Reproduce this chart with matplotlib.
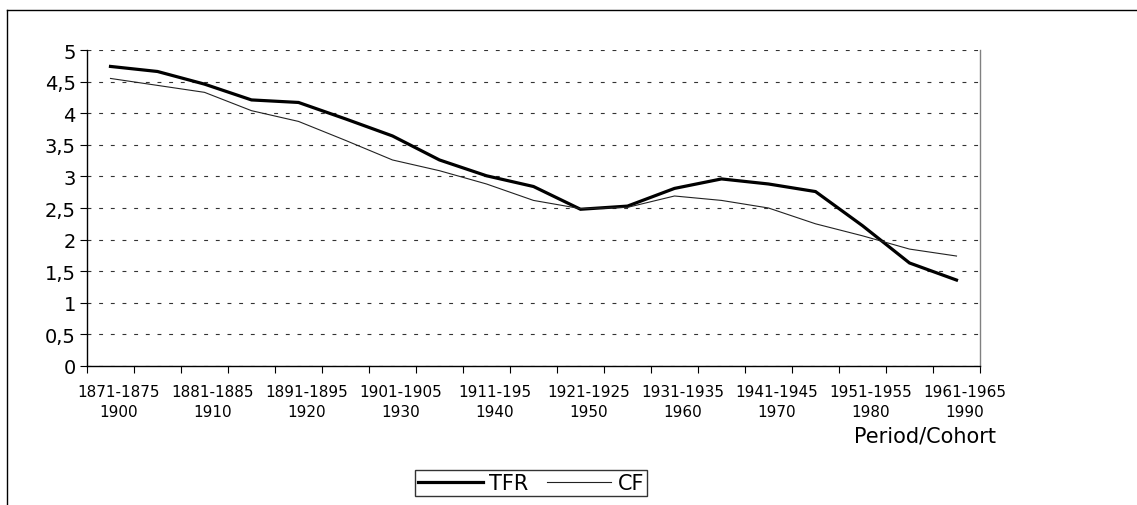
import matplotlib
matplotlib.use("Agg")
import matplotlib.pyplot as plt
from matplotlib.lines import Line2D
from matplotlib.transforms import ScaledTranslation
import numpy as np

# ---- data ----
periods = ["1871-1875", "1876-1880", "1881-1885", "1886-1890", "1891-1895",
           "1896-1900", "1901-1905", "1906-1910", "1911-1915", "1916-1920",
           "1921-1925", "1926-1930", "1931-1935", "1936-1940", "1941-1945",
           "1946-1950", "1951-1955", "1956-1960", "1961-1965"]
tick_labels = ["1871-1875\n1900", "1881-1885\n1910", "1891-1895\n1920",
               "1901-1905\n1930", "1911-195\n1940", "1921-1925\n1950",
               "1931-1935\n1960", "1941-1945\n1970", "1951-1955\n1980",
               "1961-1965\n1990"]
tfr = [4.74, 4.66, 4.46, 4.21, 4.17, 3.91, 3.64, 3.26, 3.01, 2.84,
       2.48, 2.53, 2.81, 2.96, 2.88, 2.76, 2.22, 1.63, 1.36]
cf = [4.55, 4.44, 4.33, 4.04, 3.87, 3.57, 3.26, 3.09, 2.88, 2.62,
      2.49, 2.51, 2.69, 2.62, 2.50, 2.25, 2.06, 1.85, 1.74]
y_ticks = [0, 0.5, 1, 1.5, 2, 2.5, 3, 3.5, 4, 4.5, 5]

plt.rcParams['font.family'] = ['DejaVu Sans']

W, H = 1137, 506
fig = plt.figure(figsize=(W / 100, H / 100), dpi=100)
ax = fig.add_axes([87 / W, 1 - 367 / H, (980 - 87) / W, (367 - 51) / H])

x = np.arange(len(periods))
ax.plot(x, tfr, color='black', lw=2.3, label='TFR', solid_joinstyle='miter')
ax.plot(x, cf, color='#222222', lw=0.8, label='CF')

ax.set_xlim(-0.5, len(periods) - 0.5)
ax.set_ylim(0, 5)

# y axis
ax.set_yticks(y_ticks)
ax.set_yticklabels([("%g" % v).replace('.', ',') for v in y_ticks], fontsize=14)
ax.tick_params(axis='y', direction='out', length=5, width=0.8, pad=3, color='black')
ax.yaxis.grid(True, color='#333333', lw=0.8, linestyle=(0, (3.5, 7)))
ax.set_axisbelow(True)

# x axis
ax.set_xticks(x[::2])
ax.set_xticklabels(tick_labels, fontsize=11, linespacing=1.45)
ax.tick_params(axis='x', which='major', length=0, pad=13)
ax.set_xticks(np.arange(-0.5, len(periods)), minor=True)
ax.tick_params(axis='x', which='minor', direction='out', length=5, width=0.8)
offset = ScaledTranslation(8 / 100, 0, fig.dpi_scale_trans)
for lab in ax.get_xticklabels():
    lab.set_transform(lab.get_transform() + offset)

ax.set_xlabel('Period/Cohort', fontsize=15, ha='right', va='center')
ax.xaxis.set_label_coords((996 - 87) / (980 - 87), -(437 - 367) / (367 - 51))

# spines
ax.spines['top'].set_visible(False)
ax.spines['left'].set_color('black')
ax.spines['bottom'].set_color('black')
ax.spines['right'].set_color('#808080')
for s in ax.spines.values():
    s.set_linewidth(1)

# legend
leg = ax.legend(loc='center', bbox_to_anchor=(531 / W, 22 / H),
                bbox_transform=fig.transFigure, ncol=2, fontsize=15,
                frameon=True, fancybox=False, handlelength=3.1,
                handletextpad=0.3, columnspacing=0.9, borderpad=0.15,
                borderaxespad=0)
leg.get_frame().set_edgecolor('black')
leg.get_frame().set_linewidth(1)

# outer frame (partially visible in the reference)
fig.add_artist(Line2D([7 / W, 7 / W], [0, 1 - 11 / H], color='black', lw=1,
                      transform=fig.transFigure))
fig.add_artist(Line2D([7 / W, 1], [1 - 11 / H, 1 - 11 / H], color='black', lw=1,
                      transform=fig.transFigure))

fig.savefig('out.png', dpi=100)
